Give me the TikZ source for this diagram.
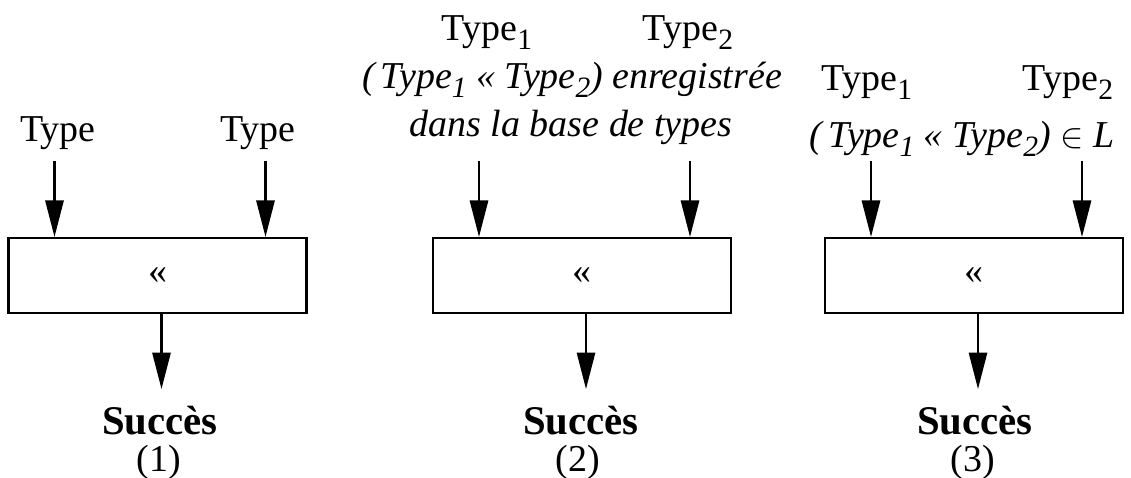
\documentclass[tikz,border=0pt]{standalone}
\usepackage{fontspec}
\setmainfont{Liberation Serif}
\usepackage{tikz}
\usetikzlibrary{
    arrows.meta,
    positioning,
    calc
}
\newcommand{\tsub}[1]{\raisebox{-0.22em}{\fontsize{21}{21}\selectfont #1}}
\tikzset{
    % Operator box
    opbox/.style={
        rectangle,
        draw=black,
        line width=1.5pt,
        minimum width=7.45cm,
        minimum height=1.875cm,
        inner sep=0pt,
        font=\fontsize{27}{32}\selectfont
    },
    % Arrow style
    flowarrow/.style={
        -{Triangle[length=26pt, width=13pt]},
        line width=1.5pt
    },
    % Type label
    typelabel/.style={
        anchor=base,
        inner sep=0pt,
        font=\fontsize{27}{32}\selectfont
    },
    % Condition label
    condlabel/.style={
        typelabel,
        font=\fontsize{27}{32}\selectfont\itshape
    },
    % Result label
    resultlabel/.style={
        typelabel,
        font=\fontsize{29}{32}\selectfont\bfseries
    }
}

\begin{document}
\begin{tikzpicture}[x=0.025cm, y=-0.025cm]
    \useasboundingbox (0,0) rectangle (1131,478);

    % Operator boxes
    \node[opbox] (box1) at (157.5,275.5) {«};
    \node[opbox] (box2) at (582,275.5) {«};
    \node[opbox] (box3) at (974,275.5) {«};

    % Arrow end points
    \foreach \b in {1,2,3} {
        \coordinate (in\b-left) at ($(box\b.north)+(-103,-76)$);
        \coordinate (in\b-right) at ($(box\b.north)+(108,-76)$);
        \coordinate (out\b) at ($(box\b.south)+(4,75)$);
    }

    % Input labels
    \node[typelabel] (type1-left) at (58,142) {Type};
    \node[typelabel] (type1-right) at (258,142) {Type};
    \node[typelabel] (type2-left) at (487,41) {Type\tsub{1}};
    \node[typelabel] (type2-right) at (688,41) {Type\tsub{2}};
    \node[condlabel] (cond2-a) at (572,89) {(\,Type\tsub{1} « Type\tsub{2}) enregistrée};
    \node[condlabel] (cond2-b) at (571,137) {dans la base de types};
    \node[typelabel] (type3-left) at (867,91) {Type\tsub{1}};
    \node[typelabel] (type3-right) at (1068,91) {Type\tsub{2}};
    \node[condlabel] (cond3) at (962,148) {(\,Type\tsub{1} « Type\tsub{2}) $\in$ L};

    % Input and output arrows
    \foreach \b in {1,2,3} {
        \draw[flowarrow] (in\b-left) -- (in\b-left |- box\b.north);
        \draw[flowarrow] (in\b-right) -- (in\b-right |- box\b.north);
        \draw[flowarrow] (out\b |- box\b.south) -- (out\b);
    }

    % Results
    \node[resultlabel] (res1) at (160,434) {Succès};
    \node[typelabel] (num1) at (159,471) {(1)};
    \node[resultlabel] (res2) at (581,434) {Succès};
    \node[typelabel] (num2) at (578,471) {(2)};
    \node[resultlabel] (res3) at (975,434) {Succès};
    \node[typelabel] (num3) at (973,471) {(3)};

\end{tikzpicture}
\end{document}
